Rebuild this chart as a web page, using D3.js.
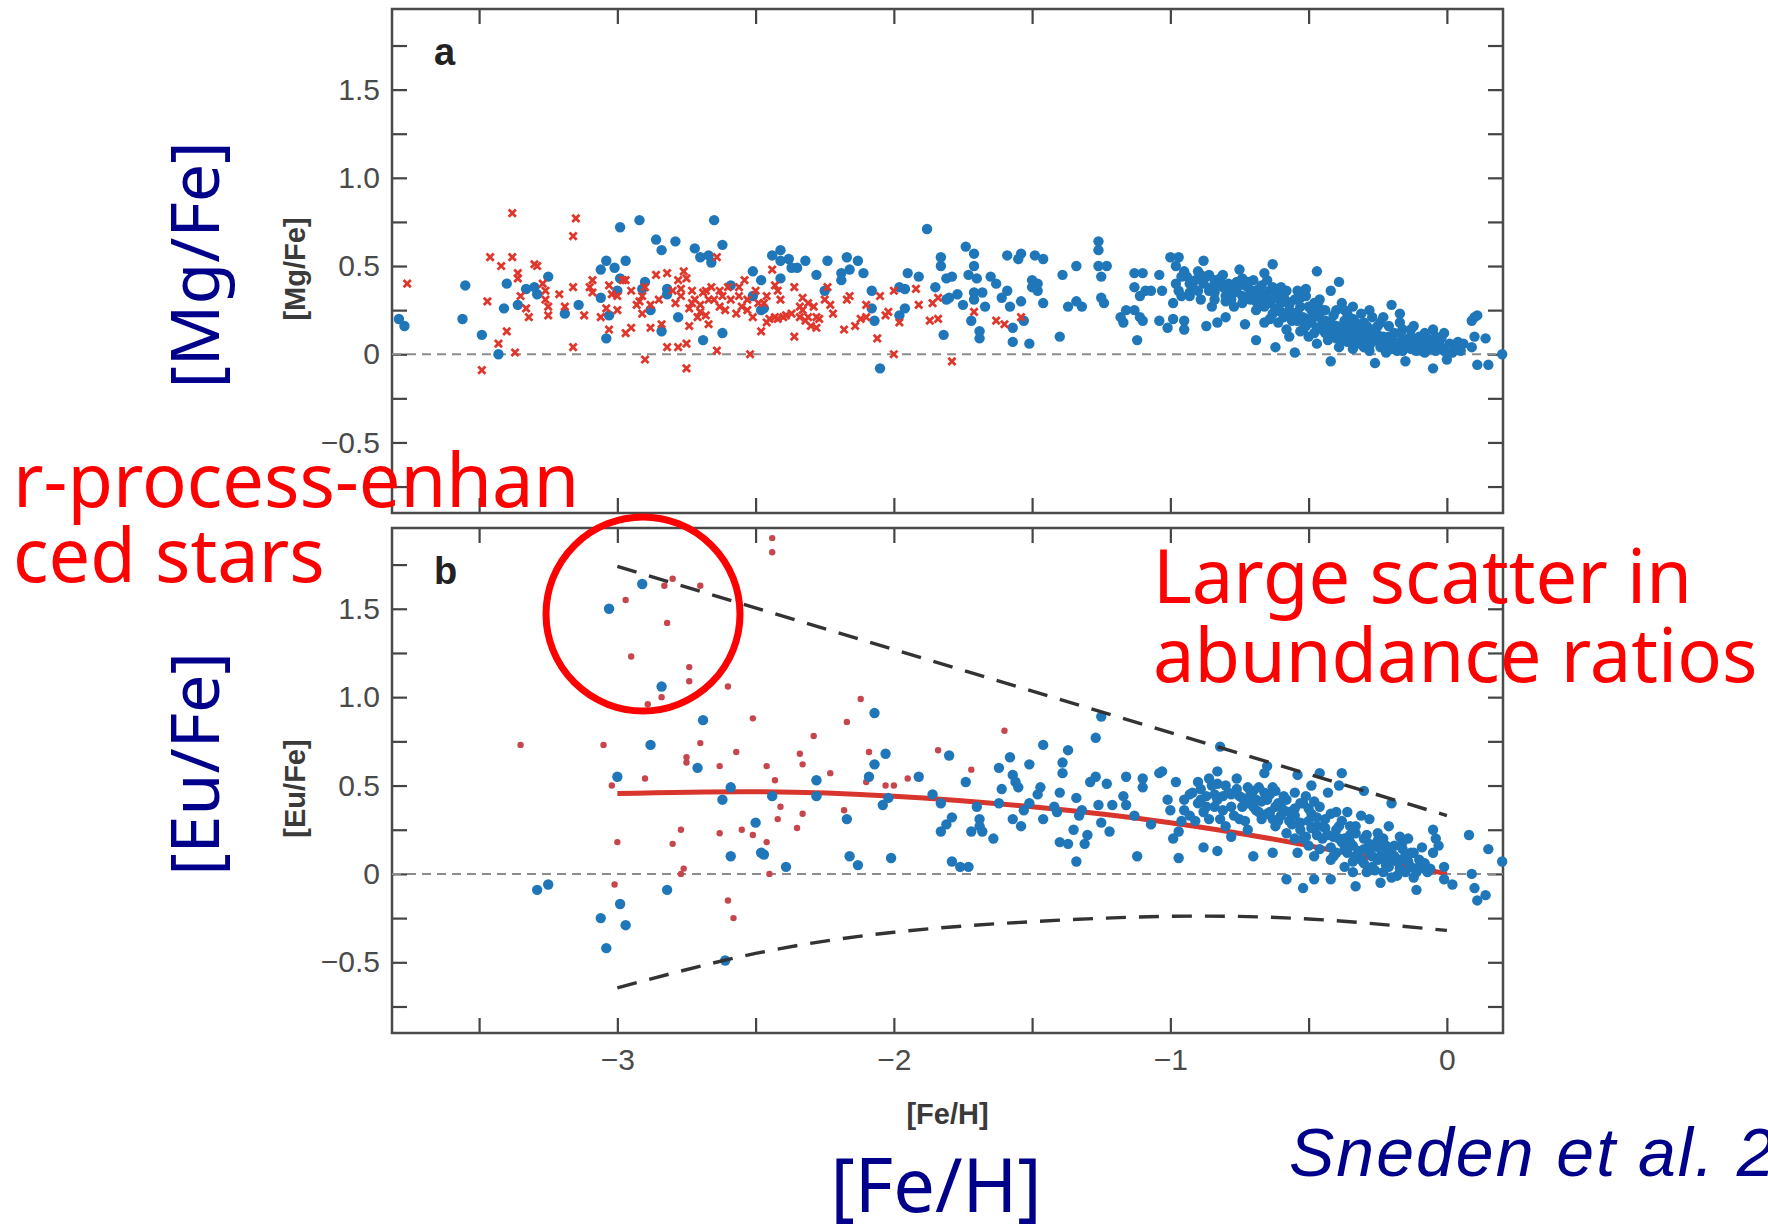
<!DOCTYPE html>
<html lang="en">
<head>
<meta charset="UTF-8">
<title>[Mg/Fe] and [Eu/Fe] versus [Fe/H]</title>
<script src="https://d3js.org/d3.v7.min.js"></script>
<style>
  body { margin: 0; background: #fff; }
  svg { display: block; }
</style>
</head>
<body>
<div class="canvas"></div>
<script>
// ---- data: [Fe/H], [X/Fe] pairs ----
const mgBlue = [
  [-3.79,0.20],[-3.77,0.16],[-3.56,0.20],[-3.55,0.39],[-3.49,0.11],[-3.43,0.00],[-3.41,0.26],[-3.40,0.40],
  [-3.36,0.28],[-3.33,0.37],[-3.30,0.38],[-3.29,0.34],[-3.25,0.44],[-3.19,0.23],[-3.14,0.28],[-3.06,0.32],
  [-3.06,0.48],[-3.04,0.53],[-3.03,0.22],[-3.04,0.09],[-3.01,0.49],[-2.99,0.72],[-2.99,0.43],[-3.00,0.36],
  [-2.97,0.53],[-2.92,0.76],[-2.90,0.41],[-2.91,0.37],[-2.88,0.25],[-2.86,0.65],[-2.84,0.59],[-2.84,0.13],
  [-2.82,0.37],[-2.82,0.34],[-2.79,0.64],[-2.78,0.21],[-2.72,0.60],[-2.70,0.55],[-2.67,0.56],[-2.66,0.52],
  [-2.65,0.76],[-2.62,0.62],[-2.62,0.12],[-2.69,0.08],[-2.59,0.39],[-2.51,0.47],[-2.51,0.33],[-2.48,0.42],
  [-2.48,0.25],[-2.47,0.26],[-2.44,0.56],[-2.41,0.59],[-2.41,0.53],[-2.41,0.43],[-2.38,0.54],[-2.37,0.49],
  [-2.35,0.49],[-2.32,0.53],[-2.28,0.45],[-2.25,0.36],[-2.24,0.53],[-2.19,0.46],[-2.19,0.42],[-2.17,0.55],
  [-2.16,0.48],[-2.13,0.53],[-2.11,0.46],[-2.08,0.36],[-2.08,0.26],[-2.07,0.19],[-2.05,-0.08],[-1.98,0.38],
  [-1.96,0.37],[-1.96,0.26],[-1.95,0.46],[-1.91,0.44],[-1.98,0.22],[-1.88,0.71],[-1.85,0.38],[-1.83,0.55],
  [-1.83,0.50],[-1.82,0.11],[-1.81,0.43],[-1.81,0.31],[-1.80,0.32],[-1.79,0.44],[-1.77,0.34],[-1.75,0.28],
  [-1.74,0.61],[-1.73,0.45],[-1.72,0.19],[-1.71,0.57],[-1.71,0.50],[-1.71,0.35],[-1.71,0.31],[-1.69,0.13],
  [-1.69,0.09],[-1.70,0.43],[-1.68,0.35],[-1.67,0.27],[-1.65,0.44],[-1.63,0.40],[-1.61,0.32],[-1.59,0.56],
  [-1.59,0.36],[-1.58,0.27],[-1.57,0.15],[-1.57,0.07],[-1.55,0.54],[-1.54,0.57],[-1.54,0.30],[-1.53,0.19],
  [-1.51,0.06],[-1.50,0.42],[-1.50,0.38],[-1.49,0.56],[-1.48,0.40],[-1.48,0.36],[-1.46,0.54],[-1.46,0.29],
  [-1.40,0.10],[-1.39,0.45],[-1.37,0.27],[-1.34,0.50],[-1.34,0.30],[-1.32,0.27],[-1.26,0.64],[-1.26,0.59],
  [-1.26,0.50],[-1.25,0.44],[-1.23,0.50],[-1.25,0.32],[-1.24,0.29],[-1.18,0.21],[-1.17,0.18],[-1.16,0.25],
  [-1.13,0.46],[-1.10,0.46],[-1.13,0.38],[-1.11,0.33],[-1.09,0.36],[-1.07,0.36],[-1.04,0.45],[-1.03,0.36],
  [-1.13,0.25],[-1.11,0.21],[-1.10,0.19],[-1.12,0.08],[-1.04,0.19],[-1.01,0.15],[-0.99,0.29],[-0.99,0.20],
  [-1.00,0.55],[-0.97,0.55],[-0.98,0.50],[-0.96,0.44],[-0.97,0.36],[-0.95,0.47],[-0.95,0.19],[-0.95,0.14],
  [-0.93,0.35],[-0.93,0.40],[-0.91,0.42],[-0.90,0.36],[-0.89,0.31],[-0.88,0.53],[-0.87,0.16],[-0.87,0.44],
  [-0.86,0.36],[-0.85,0.27],[-0.84,0.42],[-0.84,0.31],[-0.83,0.18],[-0.82,0.43],[-0.81,0.38],[-0.80,0.33],
  [-0.80,0.21],[-0.78,0.36],[-0.77,0.27],[-0.76,0.41],[-0.75,0.48],[-0.74,0.33],[-0.74,0.43],[-0.73,0.17],
  [-0.72,0.38],[-0.71,0.31],[-0.70,0.36],[-0.69,0.08],[-0.69,0.25],[-0.67,0.39],[-0.67,0.33],[-0.66,0.46],
  [-0.66,0.18],[-0.65,0.42],[-0.64,0.29],[-0.64,0.36],[-0.63,0.51],[-0.63,0.23],[-0.62,0.04],[-0.61,0.35],
  [-0.61,0.18],[-0.60,0.29],[-0.60,0.38],[-0.59,0.21],[-0.58,0.14],[-0.58,0.36],[-0.57,0.25],[-0.57,0.10],
  [-0.55,0.31],[-0.55,0.01],[-0.54,0.19],[-0.54,0.36],[-0.53,0.27],[-0.52,0.14],[-0.52,0.21],[-0.51,0.37],
  [-0.51,0.33],[-0.50,0.10],[-0.49,0.25],[-0.49,0.18],[-0.48,0.29],[-0.48,0.12],[-0.47,0.47],[-0.46,0.21],
  [-0.46,0.31],[-0.45,0.14],[-0.44,0.25],[-0.43,0.08],[-0.42,-0.04],[-0.42,0.18],[-0.42,0.36],[-0.41,0.10],
  [-0.40,0.25],[-0.40,0.14],[-0.39,0.04],[-0.39,0.41],[-0.38,0.29],[-0.37,0.19],[-0.37,0.08],[-0.36,0.16],
  [-0.36,0.23],[-0.35,0.12],[-0.34,0.03],[-0.34,0.27],[-0.33,0.18],[-0.33,0.08],[-0.31,0.14],[-0.31,0.23],
  [-0.30,0.04],[-0.30,0.18],[-0.29,0.10],[-0.28,0.25],[-0.28,0.02],[-0.27,0.14],[-0.27,0.21],[-0.26,-0.05],
  [-0.25,0.08],[-0.25,0.16],[-0.24,0.04],[-0.23,0.21],[-0.23,0.10],[-0.22,0.01],[-0.21,0.16],[-0.21,0.06],
  [-0.20,0.28],[-0.19,0.12],[-0.18,0.02],[-0.17,0.18],[-0.17,0.23],[-0.16,0.08],[-0.16,0.14],[-0.15,-0.04],
  [-0.14,0.04],[-0.13,0.10],[-0.12,0.16],[-0.11,0.02],[-0.11,0.08],[-0.10,0.04],[-0.08,0.12],[-0.08,0.01],
  [-0.07,0.06],[-0.05,0.14],[-0.05,-0.08],[-0.04,0.02],[-0.04,0.10],[-0.02,0.04],[-0.01,0.12],[0.00,-0.03],
  [0.01,0.06],[0.02,0.01],[0.04,0.07],[0.06,0.06],[0.09,0.04],[0.09,0.19],[0.10,0.21],[0.11,0.22],
  [0.11,-0.06],[0.14,0.09],[0.15,-0.06],[0.10,0.10],[0.20,0.00],
  [-0.80,0.30],[-0.77,0.35],[-0.70,0.32],[-0.68,0.28],[-0.62,0.26],[-0.56,0.22],[-0.50,0.20],[-0.45,0.17],
  [-0.40,0.16],[-0.38,0.12],[-0.35,0.15],[-0.32,0.10],[-0.30,0.12],[-0.27,0.07],[-0.25,0.11],[-0.22,0.06],
  [-0.20,0.09],[-0.18,0.05],[-0.15,0.07],[-0.13,0.03],[-0.10,0.06],[-0.09,0.09],[-0.06,0.03],[-0.03,0.07],
  [-0.58,0.30],[-0.66,0.34],[-0.72,0.41],[-0.85,0.38],[-0.89,0.45],[-0.93,0.33],[-0.64,0.20],[-0.53,0.13],
  [-0.47,0.06],[-0.44,0.12],
  [-0.98,0.40],[-0.96,0.33],[-0.94,0.44],[-0.92,0.38],[-0.90,0.47],[-0.88,0.40],[-0.86,0.45],[-0.84,0.35],
  [-0.83,0.39],[-0.81,0.45],[-0.79,0.40],[-0.78,0.31],[-0.76,0.37],[-0.74,0.29],[-0.73,0.39],[-0.71,0.34],
  [-0.70,0.42],[-0.69,0.30],[-0.68,0.37],[-0.66,0.27],[-0.65,0.31],[-0.63,0.38],[-0.62,0.32],[-0.60,0.24],
  [-0.59,0.33],[-0.57,0.28],[-0.56,0.19],[-0.54,0.24],[-0.53,0.32],[-0.51,0.16],[-0.50,0.27],[-0.48,0.22],
  [-0.47,0.15],[-0.46,0.26],[-0.44,0.19],[-0.43,0.14],[-0.41,0.22],[-0.40,0.09],[-0.38,0.16],[-0.37,0.25],
  [-0.36,0.07],[-0.34,0.20],[-0.33,0.13],[-0.32,0.06],[-0.30,0.09],[-0.29,0.16],[-0.28,0.05],[-0.26,0.12],
  [-0.24,0.18],[-0.23,0.06],[-0.21,0.10],[-0.20,0.03],[-0.19,0.07],[-0.17,0.12],[-0.16,0.02],[-0.14,0.09],
  [-0.13,0.14],[-0.12,0.05],[-0.10,0.10],[-0.09,0.02],[-0.07,0.09],[-0.06,0.05],[-0.04,0.06],[-0.02,0.09],
  [-0.01,0.02],[0.03,0.04],[0.05,0.02]
];

const mgRed = [
  [-3.76,0.40],[-3.47,0.30],[-3.46,0.55],[-3.42,0.50],[-3.40,0.13],[-3.43,0.06],[-3.38,0.80],[-3.38,0.55],
  [-3.37,0.01],[-3.49,-0.09],[-3.36,0.46],[-3.36,0.43],[-3.35,0.33],[-3.33,0.26],[-3.32,0.21],[-3.30,0.51],
  [-3.29,0.50],[-3.27,0.40],[-3.26,0.36],[-3.26,0.31],[-3.25,0.27],[-3.25,0.22],[-3.21,0.34],[-3.19,0.27],
  [-3.16,0.38],[-3.16,0.04],[-3.16,0.67],[-3.15,0.77],[-3.12,0.22],[-3.10,0.38],[-3.09,0.42],[-3.09,0.35],
  [-3.06,0.21],[-3.04,0.26],[-3.03,0.39],[-3.03,0.14],[-3.02,0.34],[-3.00,0.33],[-3.00,0.25],[-2.98,0.42],
  [-2.97,0.12],[-2.97,0.42],[-2.95,0.15],[-2.95,0.36],[-2.93,0.28],[-2.92,0.30],[-2.91,0.33],[-2.91,0.23],
  [-2.90,-0.03],[-2.90,0.38],[-2.88,0.15],[-2.88,0.28],[-2.86,0.45],[-2.85,0.31],[-2.84,0.17],[-2.82,0.04],
  [-2.82,0.46],[-2.80,0.36],[-2.79,0.29],[-2.78,0.04],[-2.78,0.42],[-2.77,0.33],[-2.76,0.47],[-2.75,0.06],
  [-2.75,0.43],[-2.75,-0.08],[-2.74,0.26],[-2.74,0.16],[-2.73,0.36],[-2.72,0.31],[-2.71,0.21],[-2.70,0.28],
  [-2.69,0.35],[-2.68,0.36],[-2.68,0.22],[-2.67,0.17],[-2.66,0.38],[-2.65,0.31],[-2.64,0.55],[-2.64,0.02],
  [-2.63,0.36],[-2.62,0.33],[-2.61,0.25],[-2.60,0.38],[-2.59,0.31],[-2.57,0.23],[-2.56,0.38],[-2.55,0.27],
  [-2.54,0.42],[-2.53,0.31],[-2.52,0.00],[-2.51,0.21],[-2.50,0.36],[-2.49,0.29],[-2.48,0.13],
  [-2.73,0.29],[-2.67,0.31],[-2.56,0.33],[-2.53,0.25],[-2.63,0.27],[-2.70,0.24],[-2.77,0.37],
  [-2.44,0.48],[-2.43,0.39],[-2.42,0.36],[-2.41,0.31],[-2.46,0.33],[-2.47,0.29],[-2.46,0.18],[-2.45,0.20],
  [-2.43,0.21],[-2.42,0.20],[-2.40,0.21],[-2.39,0.22],[-2.37,0.23],[-2.36,0.38],[-2.36,0.10],[-2.34,0.27],
  [-2.34,0.21],[-2.33,0.32],[-2.33,0.25],[-2.32,0.19],[-2.31,0.29],[-2.31,0.21],[-2.30,0.16],[-2.29,0.27],
  [-2.28,0.15],[-2.28,0.21],[-2.27,0.20],[-2.25,0.31],[-2.24,0.38],[-2.23,0.28],[-2.22,0.23],[-2.18,0.14],
  [-2.17,0.31],[-2.16,0.33],[-2.14,0.16],[-2.12,0.20],[-2.10,0.21],[-2.10,0.28],[-2.06,0.09],[-2.05,0.33],
  [-2.03,0.22],[-2.02,0.24],[-2.00,0.36],[-2.00,0.00],[-1.98,0.18],[-1.92,0.37],[-1.91,0.28],[-1.87,0.19],
  [-1.86,0.29],[-1.84,0.20],[-1.84,0.32],[-1.79,-0.04],[-1.71,0.24],[-1.63,0.19],[-1.60,0.17],[-1.54,0.21]
];

const euBlue = [
  [-2.91,1.64],[-3.03,1.50],[-2.84,1.06],[-2.69,0.87],[-2.88,0.73],[-2.71,0.60],[-3.00,0.55],[-2.59,0.49],
  [-2.62,0.42],[-2.50,0.29],[-2.48,0.12],[-2.59,0.10],[-3.29,-0.09],[-3.25,-0.06],[-2.82,-0.09],[-2.99,-0.17],
  [-3.06,-0.25],[-2.97,-0.29],[-3.04,-0.42],[-2.61,-0.49],
  [-2.47,0.11],[-2.44,0.44],[-2.39,0.04],[-2.28,0.53],[-2.28,0.44],[-2.17,0.31],[-2.16,0.10],[-2.13,0.05],
  [-2.09,0.55],[-2.07,0.62],[-2.07,0.91],[-2.03,0.68],[-2.04,0.39],[-2.02,0.43],[-2.01,0.09],[-1.91,0.55],
  [-1.86,0.45],[-1.83,0.40],[-1.83,0.24],[-1.81,0.28],[-1.79,0.32],[-1.80,0.67],[-1.79,0.07],[-1.76,0.04],
  [-1.73,0.04],[-1.74,0.52],[-1.72,0.24],[-1.70,0.38],[-1.69,0.31],[-1.69,0.27],[-1.68,0.24],[-1.64,0.20],
  [-1.62,0.60],[-1.62,0.40],[-1.61,0.48],[-1.58,0.66],[-1.57,0.56],[-1.56,0.52],[-1.55,0.49],[-1.57,0.31],
  [-1.54,0.27],[-1.53,0.36],[-1.51,0.40],[-1.51,0.62],[-1.47,0.49],[-1.48,0.45],[-1.46,0.73],[-1.46,0.31],
  [-1.42,0.38],[-1.41,0.35],[-1.40,0.18],[-1.40,0.46],[-1.39,0.63],[-1.39,0.57],[-1.37,0.70],[-1.37,0.17],
  [-1.34,0.43],[-1.35,0.25],[-1.34,0.07],[-1.33,0.33],[-1.32,0.36],[-1.31,0.17],[-1.30,0.22],[-1.29,0.52],
  [-1.27,0.77],[-1.27,0.55],[-1.26,0.39],[-1.25,0.29],[-1.25,0.89],[-1.23,0.51],[-1.22,0.24],[-1.21,0.39],
  [-1.16,0.55],[-1.17,0.44],[-1.16,0.39],
  [-1.13,0.33],[-1.10,0.54],[-1.10,0.49],[-1.07,0.28],[-1.12,0.10],[-1.04,0.57],[-1.03,0.58],[-1.01,0.42],
  [-1.00,0.36],[-0.98,0.52],[-0.99,0.20],[-0.97,0.24],[-0.97,0.09],[-0.96,0.30],[-0.95,0.42],[-0.93,0.33],
  [-0.92,0.46],[-0.90,0.52],[-0.89,0.42],[-0.88,0.35],[-0.88,0.15],[-0.87,0.44],[-0.86,0.54],[-0.86,0.31],
  [-0.84,0.38],[-0.83,0.58],[-0.83,0.51],[-0.83,0.13],[-0.82,0.31],[-0.82,0.72],[-0.81,0.44],[-0.80,0.27],
  [-0.78,0.38],[-0.78,0.21],[-0.76,0.54],[-0.75,0.44],[-0.75,0.31],[-0.74,0.38],[-0.72,0.49],[-0.72,0.25],
  [-0.70,0.10],[-0.69,0.36],[-0.69,0.42],[-0.67,0.31],[-0.66,0.46],[-0.66,0.57],[-0.65,0.61],[-0.64,0.35],
  [-0.63,0.49],[-0.63,0.12],[-0.62,0.27],[-0.61,0.40],[-0.60,0.33],[-0.59,0.44],[-0.58,0.23],[-0.58,-0.03],
  [-0.57,0.35],[-0.55,0.20],[-0.55,0.46],[-0.54,0.12],[-0.54,0.56],[-0.53,0.29],[-0.52,0.40],[-0.52,-0.08],
  [-0.51,0.21],[-0.51,0.44],[-0.50,0.16],[-0.49,0.34],[-0.49,0.50],[-0.48,-0.03],[-0.48,0.10],[-0.47,0.27],
  [-0.46,0.57],[-0.46,0.38],[-0.45,0.20],[-0.44,0.31],[-0.43,0.46],[-0.42,0.08],[-0.42,-0.03],[-0.41,0.21],
  [-0.40,0.35],[-0.40,0.12],[-0.39,0.50],[-0.39,0.27],[-0.38,0.57],[-0.37,0.04],[-0.37,0.20],[-0.36,0.35],
  [-0.36,0.12],[-0.35,0.27],[-0.34,0.01],[-0.34,0.16],[-0.33,-0.07],[-0.33,0.23],[-0.31,0.08],[-0.31,0.33],
  [-0.30,0.20],[-0.30,0.47],[-0.29,0.01],[-0.28,0.12],[-0.28,0.31],[-0.27,0.04],[-0.27,0.16],[-0.25,0.23],
  [-0.25,0.08],[-0.24,-0.05],[-0.23,0.20],[-0.23,0.01],[-0.22,0.12],[-0.21,0.27],[-0.21,0.04],[-0.20,0.40],
  [-0.19,0.16],[-0.18,-0.01],[-0.17,0.21],[-0.17,0.08],[-0.16,0.14],[-0.15,0.01],[-0.14,0.20],[-0.13,0.04],
  [-0.12,0.12],[-0.11,-0.09],[-0.11,0.01],[-0.10,0.04],[-0.08,0.03],[-0.07,0.01],[-0.05,0.25],[-0.05,0.12],
  [-0.04,0.20],[-0.03,0.16],[-0.01,0.04],[-0.01,-0.03],[0.02,-0.06],[0.08,0.22],[0.09,0.00],[0.10,-0.08],
  [0.11,-0.15],[0.14,-0.12],[0.15,0.14],[0.20,0.07],
  [-0.78,0.45],[-0.72,0.40],[-0.70,0.47],[-0.68,0.35],[-0.65,0.42],[-0.60,0.38],[-0.57,0.30],[-0.55,0.37],
  [-0.53,0.25],[-0.50,0.30],[-0.47,0.22],[-0.44,0.26],[-0.42,0.15],[-0.40,0.25],[-0.38,0.18],[-0.35,0.22],
  [-0.33,0.10],[-0.30,0.14],[-0.27,0.10],[-0.25,0.15],[-0.22,0.05],[-0.20,0.12],[-0.18,0.07],[-0.15,0.10],
  [-0.62,0.47],[-0.80,0.50],[-0.84,0.45],[-0.90,0.40],[-0.63,0.31],[-0.48,0.41],
  [-0.95,0.36],[-0.93,0.45],[-0.91,0.30],[-0.89,0.48],[-0.87,0.38],[-0.85,0.50],[-0.83,0.42],[-0.81,0.36],
  [-0.79,0.46],[-0.77,0.33],[-0.76,0.48],[-0.74,0.43],[-0.73,0.30],[-0.71,0.45],[-0.70,0.38],[-0.68,0.49],
  [-0.67,0.41],[-0.65,0.34],[-0.64,0.45],[-0.62,0.38],[-0.61,0.30],[-0.59,0.36],[-0.58,0.42],[-0.56,0.28],
  [-0.55,0.33],[-0.53,0.40],[-0.52,0.20],[-0.50,0.37],[-0.49,0.26],[-0.47,0.32],[-0.46,0.14],[-0.45,0.27],
  [-0.43,0.22],[-0.42,0.34],[-0.41,0.10],[-0.39,0.20],[-0.38,0.30],[-0.37,0.14],[-0.35,0.18],[-0.34,0.07],
  [-0.33,0.27],[-0.32,0.13],[-0.30,0.06],[-0.29,0.22],[-0.28,0.17],[-0.26,0.02],[-0.25,0.19],[-0.24,0.10],
  [-0.22,0.16],[-0.21,0.08],[-0.20,-0.02],[-0.19,0.10],[-0.17,0.03],[-0.16,0.18],[-0.14,0.07],[-0.13,0.12],
  [-0.12,-0.02],[-0.10,0.08],[-0.09,0.15],[-0.08,0.06],[-0.06,0.03]
];

const euRed = [
  [-2.80,1.67],[-2.83,1.63],[-2.70,1.63],[-2.97,1.55],[-2.82,1.42],[-2.95,1.23],[-2.74,1.17],[-2.74,1.09],
  [-2.84,1.00],[-2.89,0.96],[-2.60,1.06],[-2.51,0.88],[-3.35,0.73],[-3.05,0.73],[-2.70,0.74],[-2.57,0.69],
  [-2.75,0.66],[-2.75,0.63],[-2.63,0.61],[-2.90,0.54],[-3.02,0.50],[-2.77,0.25],[-2.63,0.23],[-2.55,0.25],
  [-2.51,0.22],[-3.00,0.18],[-2.80,0.17],[-2.76,0.03],[-2.77,0.00],[-3.01,-0.06],[-2.60,-0.15],[-2.58,-0.25],
  [-2.44,1.90],[-2.44,1.82],
  [-2.46,0.61],[-2.43,0.53],[-2.41,0.38],[-2.42,0.31],[-2.46,0.18],[-2.45,0.00],[-2.35,0.26],[-2.34,0.68],
  [-2.33,0.62],[-2.33,0.34],[-2.29,0.78],[-2.23,0.57],[-2.18,0.36],[-2.17,0.86],[-2.12,0.99],[-2.10,0.52],
  [-2.09,0.69],[-2.03,0.50],[-2.00,0.50],[-1.95,0.54],[-1.84,0.70],[-1.72,0.59],[-1.60,0.81]
];

const fitFe = [-3.0, -2.5, -2.0, -1.5, -1.0, -0.5, 0.0];
const fitEu = [0.455, 0.465, 0.44, 0.38, 0.29, 0.16, 0.0];
const upperFe = [-3.0, 0.0];
const upperEu = [1.74, 0.33];
const lowerFe = [-3.0, -2.5, -2.0, -1.5, -1.0, -0.5, 0.0];
const lowerEu = [-0.645, -0.45, -0.33, -0.27, -0.24, -0.255, -0.32];

const xTicks = [-3.5, -3, -2.5, -2, -1.5, -1, -0.5, 0];
const xLabels = [-3, -2, -1, 0];
const yTicks = [-0.75, -0.5, -0.25, 0, 0.25, 0.5, 0.75, 1, 1.25, 1.5, 1.75];
const yLabels = [-0.5, 0, 0.5, 1, 1.5];

// ---- layout ----
const svgWidth = 1768;
const svgHeight = 1226;
const plotLeft = 392;
const plotRight = 1503;
const tickFont = "'Liberation Sans', Arial, sans-serif";
const noteFont = "'Noto Sans', sans-serif";
const navy = "#00008b";

const svg = d3.select(".canvas")
  .append("svg")
  .attr("width", svgWidth)
  .attr("height", svgHeight);

const x = d3.scaleLinear().domain([-3.815, 0.203]).range([plotLeft, plotRight]);

const fmtY = d => d === 0 ? "0" : d3.format(".1f")(d);
const fmtX = d => d === 0 ? "0" : d3.format("d")(d);

const panels = [
  { top: 9, bottom: 513, letter: "a", label: "[Mg/Fe]" },
  { top: 528, bottom: 1033, letter: "b", label: "[Eu/Fe]" }
];

panels.forEach((p, i) => {
  p.y = d3.scaleLinear().domain([-0.9, 1.957]).range([p.bottom, p.top]);
  const g = svg.append("g").attr("class", "panel-" + p.letter);

  // inward ticks on all four sides
  const left = d3.axisLeft(p.y).tickValues(yTicks).tickSize(-15).tickPadding(12)
    .tickFormat(d => yLabels.includes(d) ? fmtY(d) : "");
  const right = d3.axisRight(p.y).tickValues(yTicks).tickSize(-15).tickFormat("");
  const top = d3.axisTop(x).tickValues(xTicks).tickSize(-15).tickFormat("");
  const bottom = d3.axisBottom(x).tickValues(xTicks).tickSize(-15).tickPadding(16)
    .tickFormat(d => (i === 1 && xLabels.includes(d)) ? fmtX(d) : "");

  const axes = [
    g.append("g").attr("transform", `translate(${plotLeft},0)`).call(left),
    g.append("g").attr("transform", `translate(${plotRight},0)`).call(right),
    g.append("g").attr("transform", `translate(0,${p.top})`).call(top),
    g.append("g").attr("transform", `translate(0,${p.bottom})`).call(bottom)
  ];
  axes.forEach(a => {
    a.select(".domain").remove();
    a.selectAll(".tick line").attr("stroke", "#444").attr("stroke-width", 2.2);
    a.selectAll(".tick text")
      .attr("fill", "#4a4a4a")
      .style("font-family", tickFont)
      .style("font-size", "30px");
  });

  g.append("rect")
    .attr("x", plotLeft).attr("y", p.top)
    .attr("width", plotRight - plotLeft).attr("height", p.bottom - p.top)
    .attr("fill", "none").attr("stroke", "#4a4a4a").attr("stroke-width", 2.5);

  // zero reference line
  g.append("line")
    .attr("x1", plotLeft).attr("x2", plotRight)
    .attr("y1", p.y(0)).attr("y2", p.y(0))
    .attr("stroke", "#8c8c8c").attr("stroke-width", 2).attr("stroke-dasharray", "9,6");

  g.append("text")
    .attr("x", 434).attr("y", p.top + 56)
    .text(p.letter)
    .style("font-family", tickFont)
    .style("font-weight", "bold").style("font-size", "38px").attr("fill", "#222");

  g.append("text")
    .attr("transform", `translate(305,${(p.top + p.bottom) / 2 + 8}) rotate(-90)`)
    .attr("text-anchor", "middle")
    .text(p.label)
    .style("font-family", tickFont)
    .style("font-weight", "bold").style("font-size", "29px").attr("fill", "#3a3a3a");
});

const ya = panels[0].y;
const yb = panels[1].y;

// ---- panel a ----
svg.append("g").selectAll("circle").data(mgBlue).join("circle")
  .attr("cx", d => x(d[0])).attr("cy", d => ya(d[1])).attr("r", 5.2)
  .attr("fill", "#1f77b9");

svg.append("g").selectAll("path").data(mgRed).join("path")
  .attr("transform", d => `translate(${x(d[0])},${ya(d[1])})`)
  .attr("d", "M-3.6,-3.6L3.6,3.6M-3.6,3.6L3.6,-3.6")
  .attr("stroke", "#e0372c").attr("stroke-width", 2.8).attr("fill", "none");

// ---- panel b ----
const fitLine = d3.line().x(d => x(d[0])).y(d => yb(d[1])).curve(d3.curveNatural);

svg.append("path")
  .attr("d", fitLine(d3.zip(fitFe, fitEu)))
  .attr("fill", "none").attr("stroke", "#d8362c").attr("stroke-width", 5);

svg.append("g").selectAll("circle").data(euRed).join("circle")
  .attr("cx", d => x(d[0])).attr("cy", d => yb(d[1])).attr("r", 3.2)
  .attr("fill", "#c7454c");

svg.append("g").selectAll("circle").data(euBlue).join("circle")
  .attr("cx", d => x(d[0])).attr("cy", d => yb(d[1])).attr("r", 5.2)
  .attr("fill", "#1f77b9");

[[upperFe, upperEu], [lowerFe, lowerEu]].forEach(([fe, eu]) => {
  svg.append("path")
    .attr("d", fitLine(d3.zip(fe, eu)))
    .attr("fill", "none").attr("stroke", "#333").attr("stroke-width", 3.4)
    .attr("stroke-dasharray", "20,13");
});

svg.append("text")
  .attr("x", (plotLeft + plotRight) / 2).attr("y", 1124)
  .attr("text-anchor", "middle")
  .text("[Fe/H]")
  .style("font-family", tickFont)
  .style("font-weight", "bold").style("font-size", "29px").attr("fill", "#3a3a3a");

// ---- overlay annotations ----
svg.append("text")
  .attr("transform", "translate(219,265) rotate(-90)")
  .attr("text-anchor", "middle")
  .text("[Mg/Fe]")
  .style("font-family", noteFont).style("font-size", "68px").attr("fill", navy);

svg.append("text")
  .attr("transform", "translate(219,764) rotate(-90)")
  .attr("text-anchor", "middle")
  .text("[Eu/Fe]")
  .style("font-family", noteFont).style("font-size", "68px").attr("fill", navy);

svg.append("text")
  .attr("x", 936).attr("y", 1212)
  .attr("text-anchor", "middle")
  .text("[Fe/H]")
  .style("font-family", noteFont).style("font-size", "74px").attr("fill", navy);

svg.append("text")
  .attr("x", 1289).attr("y", 1176)
  .text("Sneden et al. 2008")
  .style("font-family", tickFont).style("font-style", "italic")
  .style("font-size", "68px").style("letter-spacing", "2px").attr("fill", navy);

const redNotes = [
  { x: 13, y: 507, t: "r-process-enhan" },
  { x: 13, y: 582, t: "ced stars" },
  { x: 1153, y: 603, t: "Large scatter in" },
  { x: 1153, y: 682, t: "abundance ratios" }
];
svg.append("g").selectAll("text").data(redNotes).join("text")
  .attr("x", d => d.x).attr("y", d => d.y)
  .text(d => d.t)
  .style("font-family", noteFont).style("font-size", "74px").attr("fill", "#ff0000");

svg.append("circle")
  .attr("cx", 643).attr("cy", 614).attr("r", 97)
  .attr("fill", "none").attr("stroke", "#ff0000").attr("stroke-width", 7);
</script>
</body>
</html>
